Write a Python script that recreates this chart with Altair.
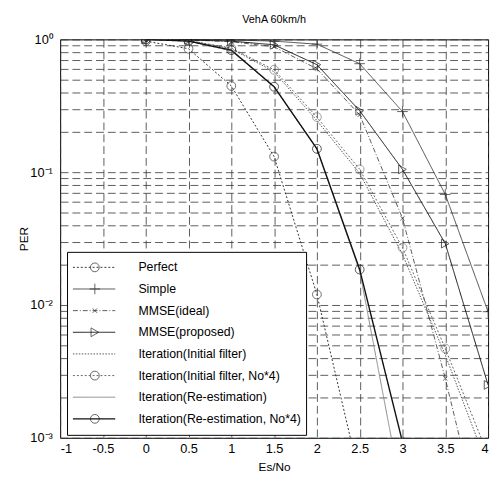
import altair as alt
import pandas as pd

# ---- data ----
x_vals = [0, 0.5, 1, 1.5, 2, 2.5, 3, 3.5, 4]
series_names = [
    "Perfect",
    "Simple",
    "MMSE(ideal)",
    "MMSE(proposed)",
    "Iteration(Initial filter)",
    "Iteration(Initial filter, No*4)",
    "Iteration(Re-estimation)",
    "Iteration(Re-estimation, No*4)",
]
perfect = [0.97, 0.85, 0.446, 0.131, 0.012, 0.0005]
simple = [1.0, 1.0, 0.99, 0.97, 0.92, 0.656, 0.286, 0.068, 0.0089]
mmse_ideal = [1.0, 0.99, 0.96, 0.88, 0.60, 0.27, 0.045, 0.0028, 0.00013]
mmse_proposed = [1.0, 0.99, 0.97, 0.91, 0.645, 0.29, 0.105, 0.029, 0.0025]
iter_init = [1.0, 0.98, 0.85, 0.57, 0.245, 0.098, 0.024, 0.0042, 0.0006]
iter_init_no4 = [1.0, 0.98, 0.86, 0.59, 0.26, 0.105, 0.027, 0.0047, 0.00074]
iter_reest = [1.0, 0.97, 0.82, 0.44, 0.15, 0.018, 0.00036]
iter_reest_no4 = [1.0, 0.97, 0.83, 0.44, 0.15, 0.0185, 0.00093]
all_values = [perfect, simple, mmse_ideal, mmse_proposed,
              iter_init, iter_init_no4, iter_reest, iter_reest_no4]

x_ticks = [-1, -0.5, 0, 0.5, 1, 1.5, 2, 2.5, 3, 3.5, 4]
y_powers = [1, 0.1, 0.01, 0.001]
y_tick_labels = ["10⁰", "10⁻¹", "10⁻²", "10⁻³"]
y_grid = [m * 10.0 ** e for e in (-3, -2, -1) for m in range(1, 10)] + [1]

# ---- styles ----
line_colors = ["#333333", "#222222", "#333333", "#111111",
               "#555555", "#666666", "#888888", "#111111"]
line_dashes = [[2, 2], [1, 0], [5, 2, 1, 2], [1, 0],
               [1.5, 1.5], [2, 2], [1, 0], [1, 0]]
line_widths = [1.0, 0.8, 0.8, 1.0, 1.0, 1.0, 1.0, 1.4]
marker_shapes = ["circle", "M-1.2,0L1.2,0M0,-1.2L0,1.2", "M-0.5,-0.5L0.5,0.5M-0.5,0.5L0.5,-0.5",
                 "triangle-right", "M0,0", "circle", "M0,0", "circle"]
marker_colors = ["#333333", "#222222", "#333333", "#111111",
                 "#555555", "#777777", "#888888", "#111111"]
has_marker = [True, True, True, True, False, True, False, True]

rows = []
for name, vals in zip(series_names, all_values):
    for xv, v in zip(x_vals, vals):
        rows.append({"series": name, "mk": name + " ", "x": xv, "per": v})
df = pd.DataFrame(rows)
mk_names = [n + " " for n in series_names]
marker_series = [n + " " for n, h in zip(series_names, has_marker) if h]
df_pts = df[df["mk"].isin(marker_series)]

FONT = "Liberation Sans"
PLOT_W, PLOT_H = 435, 405

x_enc = alt.X("x:Q", scale=alt.Scale(domain=[-1, 4], nice=False, zero=False),
              axis=alt.Axis(values=x_ticks, title="Es/No", labelExpr="toString(datum.value)",
                            titleX=PLOT_W / 2, titleY=29, titleBaseline="middle",
                            labelPadding=5))
y_enc = alt.Y("per:Q", scale=alt.Scale(type="log", domain=[0.001, 1], nice=False),
              axis=alt.Axis(values=y_grid, title="PER",
                            labelExpr="datum.value == 1 ? '10⁰' : datum.value == 0.1 ? '10⁻¹' : "
                                      "datum.value == 0.01 ? '10⁻²' : datum.value == 0.001 ? '10⁻³' : ''",
                            titleX=-37, titleY=PLOT_H / 2, titleBaseline="middle",
                            labelPadding=8))

sym_len = 43
pt_size = 80
pt_w = pt_size ** 0.5
LX, LY, ROWH, PAD = 7, 216, 21.5, 5

line_legend = alt.Legend(orient="none", legendX=LX, legendY=LY, title=None,
                         symbolType="stroke", symbolSize=sym_len * sym_len,
                         clipHeight=ROWH, rowPadding=0, padding=PAD, labelOffset=4,
                         labelExpr="''")

lines = alt.Chart(df).mark_line(clip=True).encode(
    x=x_enc,
    y=y_enc,
    color=alt.Color("series:N", scale=alt.Scale(domain=series_names, range=line_colors),
                    legend=line_legend),
    strokeDash=alt.StrokeDash("series:N", scale=alt.Scale(domain=series_names, range=line_dashes),
                              legend=line_legend),
    strokeWidth=alt.StrokeWidth("series:N", scale=alt.Scale(type="ordinal", domain=series_names, range=line_widths),
                                legend=line_legend),
    detail="series:N",
)

points = alt.Chart(df_pts).mark_point(clip=True, filled=False, size=pt_size, strokeWidth=1).encode(
    x="x:Q",
    y="per:Q",
    shape=alt.Shape("mk:N", scale=alt.Scale(domain=mk_names, range=marker_shapes),
                    legend=alt.Legend(orient="none", legendX=LX, legendY=LY,
                                      title=None, symbolSize=pt_size, clipHeight=ROWH, rowPadding=0,
                                      padding=PAD, symbolOffset=sym_len / 2 - pt_w / 2,
                                      labelOffset=4 + sym_len - pt_w,
                                      labelExpr="slice(datum.label, 0, length(datum.label) - 1)",
                                      labelLimit=400, labelFont=FONT, labelFontSize=12.5,
                                      labelColor="black", strokeColor="black",
                                      fillColor="white", cornerRadius=0,
                                      symbolStrokeWidth=1, symbolFillColor="transparent",
                                      symbolStrokeColor="#222222")),
    color=alt.Color("mk:N", scale=alt.Scale(domain=mk_names, range=marker_colors), legend=None),
)

chart = alt.layer(lines, points).resolve_scale(
    color="independent", strokeDash="independent", strokeWidth="independent"
).properties(
    width=PLOT_W, height=PLOT_H,
    autosize=alt.AutoSizeParams(type="none"),
    padding={"left": 53, "top": 28, "right": 4, "bottom": 38},
    title=alt.Title("VehA 60km/h", fontSize=11, font=FONT, fontWeight="normal",
                    color="black", offset=9, anchor="middle", frame="group"),
).configure_view(
    stroke="black", strokeWidth=1
).configure_axis(
    grid=True, gridDash=[8, 4], gridColor="#333333", gridWidth=0.8,
    domain=False, ticks=False,
    labelFont=FONT, labelFontSize=13, labelColor="black",
    titleFont=FONT, titleFontSize=12, titleFontWeight="normal", titleColor="black",
)

chart.save("out.html", embed_options={"renderer": "svg", "actions": False})
